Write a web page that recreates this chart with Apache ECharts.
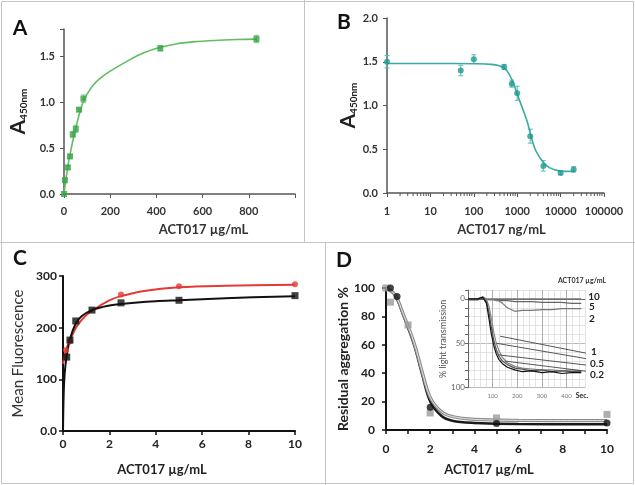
<!DOCTYPE html>
<html><head><meta charset="utf-8">
<script src="https://cdn.jsdelivr.net/npm/echarts@6/dist/echarts.min.js"></script>
<style>html,body{margin:0;padding:0;background:#fff}#c{width:635px;height:485px}</style>
</head><body><div id="c"></div>
<script>
// ---------- Panel A ----------
const aX = [0, 4, 17, 26, 38, 51, 65, 84, 417, 833];
const aY = [0, 0.15, 0.29, 0.41, 0.65, 0.71, 0.92, 1.04, 1.59, 1.69];
const aErr = [0, 0.02, 0.02, 0.02, 0.03, 0.04, 0.02, 0.04, 0.03, 0.04];
const aFitX = [0, 10, 20, 30, 40, 52, 65, 84, 100, 127, 160, 200, 274, 346, 417, 490, 560, 650, 750, 833];
const aFitY = [0, 0.19, 0.35, 0.48, 0.60, 0.73, 0.86, 1.01, 1.09, 1.19, 1.27, 1.34, 1.45, 1.54, 1.60, 1.64, 1.66, 1.675, 1.685, 1.69];
const aXTicks = [0, 200, 400, 600, 800];
// ---------- Panel B ----------
const bX = [1, 50, 100, 500, 750, 1000, 2000, 4000, 10000, 20000];
const bY = [1.50, 1.40, 1.53, 1.44, 1.25, 1.14, 0.65, 0.31, 0.23, 0.27];
const bErr = [0.07, 0.06, 0.05, 0.03, 0.04, 0.08, 0.08, 0.06, 0.02, 0.03];
const bFitX = [1, 10, 100, 250, 500, 750, 1000, 1320, 1740, 2000, 2700, 4000, 5500, 10000, 20000];
const bFitY = [1.48, 1.48, 1.477, 1.47, 1.43, 1.30, 1.13, 0.97, 0.80, 0.68, 0.48, 0.35, 0.29, 0.25, 0.247];
const bXTicks = [1, 10, 100, 1000, 10000, 100000];
// ---------- Panel C ----------
const cBlackX = [0.16, 0.3, 0.55, 1.25, 2.5, 5, 10];
const cBlackY = [143, 176, 213, 234, 248, 253, 262];
const cRedX = [0.13, 0.3, 2.5, 5, 10];
const cRedY = [157, 173, 264, 280, 284];
const cBlackFitX = [0, 0.02, 0.05, 0.1, 0.16, 0.3, 0.55, 0.8, 1.25, 2, 2.5, 4, 5, 7, 10];
const cBlackFitY = [0, 55, 95, 125, 145, 178, 208, 222, 234, 243, 246, 251, 253, 257, 261];
const cRedFitX = [0, 0.13, 0.3, 0.6, 1, 1.5, 2, 2.5, 3.5, 5, 7, 10];
const cRedFitY = [130, 157, 175, 203, 224, 240, 253, 261, 271, 278, 281, 283];
// ---------- Panel D ----------
const dBlackX = [0.2, 0.5, 2, 5, 10];
const dBlackY = [100, 94, 16, 4.5, 5];
const dGrayX = [0, 0.2, 1, 2, 5, 10];
const dGrayY = [100, 90, 74, 12, 8.5, 11];
const dFitX = [0, 0.4, 0.8, 1.27, 1.62, 2, 2.5, 3, 4, 6, 10];
const dBlackFitY = [100, 95, 80, 60, 40, 20, 10, 6.5, 5, 4.2, 4.1];
const dGrayFitY = [100, 95.5, 81, 61.5, 42, 23, 13, 9.5, 7.5, 6.8, 6.6];
// ---------- Panel D inset (light transmission traces) ----------
const insetT = [0, 40, 60, 75, 85, 95, 105, 115, 125, 140, 160, 190, 220, 260, 300, 340, 380, 420, 460];
const tr10 = [0, 0, -2, 0, 0, 0, 0, 0, 0, 0, 0, 0, 0, 0, 0, 0, 0, 0, 0];
const tr5 = [1, 1, -1, 1, 1, 1, 1, 1, 2, 2, 2, 3, 3, 3, 4, 4, 4, 5, 5];
const tr2 = [1, 1, -1, 1, 1, 1, 1, 2, 2, 5, 10, 14, 13, 13, 12, 12, 11, 11, 11];
const tr1 = [0, 0, -2, 1, 8, 22, 38, 50, 58, 66, 72, 76, 78, 79, 80, 80, 81, 80, 81];
const tr05 = [1, 1, -1, 3, 15, 32, 47, 57, 64, 70, 74, 78, 79, 81, 80, 82, 81, 82, 82];
const tr02 = [0, 0, -2, 5, 22, 40, 53, 62, 68, 73, 77, 80, 82, 81, 83, 82, 84, 83, 83];
const leaderStart = [[130, 42], [116, 50], [123, 63], [150, 70]];
const leaderEnd = [[495, 62], [495, 68], [495, 75], [495, 82]];
const insetLabels = ['10', '5', '2', '1', '0.5', '0.2'];

const zip = (xs, ys) => xs.map((x, i) => [x, ys[i]]);
const zip3 = (xs, ys, es) => xs.map((x, i) => [x, ys[i], es[i]]);
const FONT = 'Lato, "Open Sans", sans-serif';

// log minor ticks (2..9 within each decade)
const bMinor = [];
for (let d = 1; d < 100000; d *= 10) for (let k = 2; k <= 9; k++) bMinor.push([d * k]);

function errBar(color) {
  return function (params, api) {
    const x = api.value(0), y = api.value(1), e = api.value(2);
    if (!e) return;
    const t = api.coord([x, y + e]), b = api.coord([x, y - e]);
    const st = { stroke: color, lineWidth: 1 };
    return { type: 'group', children: [
      { type: 'line', shape: { x1: t[0], y1: t[1], x2: b[0], y2: b[1] }, style: st },
      { type: 'line', shape: { x1: t[0] - 2.5, y1: t[1], x2: t[0] + 2.5, y2: t[1] }, style: st },
      { type: 'line', shape: { x1: b[0] - 2.5, y1: b[1], x2: b[0] + 2.5, y2: b[1] }, style: st }
    ] };
  };
}

const axLab = (sz, col) => ({ fontWeight: 'bold', fontSize: sz, color: col, fontFamily: FONT });
const grayAxis = { lineStyle: { color: '#555', width: 1.5 } };
const blackAxis = { lineStyle: { color: '#111', width: 2 } };
const ySubName = '{a|A}{s|450nm}';
const ySubRich = { a: { fontSize: 21, fontWeight: 'bold', color: '#222', fontFamily: FONT },
                   s: { fontSize: 10, fontWeight: 'bold', color: '#222', padding: [11, 0, 0, 0], fontFamily: FONT } };
const SM = 0.35;

const chart = echarts.init(document.getElementById('c'), null, { renderer: 'canvas' });
const option = {
  animation: false,
  textStyle: { fontFamily: FONT },
  grid: [
    { left: 64, top: 29, width: 231, height: 165 },
    { left: 387, top: 18, width: 217, height: 175 },
    { left: 63, top: 276, width: 232, height: 155 },
    { left: 386, top: 288, width: 221, height: 142 },
    { left: 468, top: 290, width: 117, height: 97.7, show: true, backgroundColor: '#fff', borderWidth: 0, z: 5 }
  ],
  xAxis: [
    { gridIndex: 0, type: 'value', min: 0, max: 1000, interval: 200, axisLine: grayAxis,
      axisTick: { length: 4, lineStyle: { color: '#555' } }, splitLine: { show: false },
      axisLabel: Object.assign(axLab(11, '#333'), { margin: 12, formatter: v => aXTicks.includes(v) ? String(v) : '' }),
      name: 'ACT017 µg/mL', nameLocation: 'middle', nameGap: 29,
      nameTextStyle: { fontWeight: 'bold', fontSize: 13, color: '#333', padding: [0, 0, 0, 48] } },
    { gridIndex: 1, type: 'log', logBase: 10, min: 1, max: 100000, axisLine: grayAxis,
      axisTick: { length: 4, lineStyle: { color: '#555' } }, splitLine: { show: false },
      axisLabel: Object.assign(axLab(11, '#333'), { margin: 13, formatter: v => bXTicks.includes(v) ? String(v) : '' }),
      name: 'ACT017 ng/mL', nameLocation: 'middle', nameGap: 30,
      nameTextStyle: { fontWeight: 'bold', fontSize: 13, color: '#333', padding: [0, 0, 0, 12] } },
    { gridIndex: 2, type: 'value', min: 0, max: 10, interval: 2, axisLine: blackAxis,
      axisTick: { length: 4, lineStyle: { color: '#111', width: 1.5 } }, splitLine: { show: false },
      axisLabel: Object.assign(axLab(12, '#222'), { margin: 7 }),
      name: 'ACT017 µg/mL', nameLocation: 'middle', nameGap: 32,
      nameTextStyle: { fontWeight: 'bold', fontSize: 13, color: '#222', padding: [0, 34, 0, 0] } },
    { gridIndex: 3, type: 'value', min: 0, max: 10, interval: 1, axisLine: blackAxis,
      axisTick: { length: 4, lineStyle: { color: '#111', width: 1.5 } }, splitLine: { show: false },
      axisLabel: Object.assign(axLab(12, '#222'), { margin: 13, formatter: v => v % 2 === 0 ? String(v) : '' }),
      name: 'ACT017 µg/mL', nameLocation: 'middle', nameGap: 33,
      nameTextStyle: { fontWeight: 'bold', fontSize: 13, color: '#222', padding: [0, 15, 0, 0] } },
    { gridIndex: 4, type: 'value', min: 0, max: 475, interval: 25, z: 6,
      axisLine: { lineStyle: { color: '#666', width: 1 } }, axisTick: { show: false },
      splitLine: { show: true, lineStyle: { color: ['#999', '#ddd', '#ddd', '#ddd'], width: 0.8 } },
      axisLabel: { fontSize: 6, color: '#777', margin: 5, formatter: v => (v > 0 && v % 100 === 0) ? String(v) : '' } }
  ],
  yAxis: [
    { gridIndex: 0, type: 'value', min: 0, max: 1.8, interval: 0.5, axisLine: Object.assign({ show: true }, grayAxis),
      axisTick: { show: true, length: 4, lineStyle: { color: '#555' } }, splitLine: { show: false },
      axisLabel: Object.assign(axLab(11, '#333'), { margin: 9, formatter: v => Math.abs(v * 2 - Math.round(v * 2)) < 1e-6 ? v.toFixed(1) : '' }),
      name: ySubName, nameLocation: 'middle', nameGap: 35, nameRotate: 90, nameTextStyle: { rich: ySubRich } },
    { gridIndex: 1, type: 'value', min: 0, max: 2, interval: 0.5, axisLine: Object.assign({ show: true }, grayAxis),
      axisTick: { show: true, length: 4, lineStyle: { color: '#555' } }, splitLine: { show: false },
      axisLabel: Object.assign(axLab(11, '#333'), { margin: 9, formatter: v => v.toFixed(1) }),
      name: ySubName, nameLocation: 'middle', nameGap: 28, nameRotate: 90, nameTextStyle: { rich: ySubRich } },
    { gridIndex: 2, type: 'value', min: 0, max: 300, interval: 100, axisLine: Object.assign({ show: true }, blackAxis),
      axisTick: { show: true, length: 4, lineStyle: { color: '#111', width: 1.5 } }, splitLine: { show: false },
      axisLabel: Object.assign(axLab(12, '#222'), { margin: 6, formatter: v => v === 0 ? '0.0' : String(v) }),
      name: 'Mean Fluorescence', nameLocation: 'middle', nameGap: 37, nameRotate: 90,
      nameTextStyle: { fontSize: 15, color: '#333', fontFamily: FONT } },
    { gridIndex: 3, type: 'value', min: 0, max: 100, interval: 20, axisLine: Object.assign({ show: true }, blackAxis),
      axisTick: { show: true, length: 4, lineStyle: { color: '#111', width: 1.5 } }, splitLine: { show: false },
      axisLabel: Object.assign(axLab(12, '#222'), { margin: 11 }),
      name: 'Residual aggregation %', nameLocation: 'middle', nameGap: 33, nameRotate: 90,
      nameTextStyle: { fontSize: 14, fontWeight: 'bold', color: '#222', fontFamily: FONT } },
    { gridIndex: 4, type: 'value', inverse: true, min: -10, max: 100, interval: 10, z: 6,
      axisLine: { show: true, lineStyle: { color: '#666', width: 1 } },
      axisTick: { show: true, length: 3, lineStyle: { color: '#666' } },
      splitLine: { show: true, lineStyle: { color: ['#ddd', '#aaa', '#ddd', '#ddd', '#ddd'], width: 0.8 } },
      axisLabel: { fontSize: 8, color: '#666', margin: 3, formatter: v => (v === 0 || v === 50 || v === 100) ? String(v) : '' },
      name: '% light transmission', nameLocation: 'middle', nameGap: 13, nameRotate: 90,
      nameTextStyle: { fontSize: 9, color: '#555', fontFamily: FONT } }
  ],
  series: [
    // A
    { type: 'line', xAxisIndex: 0, yAxisIndex: 0, data: zip(aFitX, aFitY), smooth: SM, showSymbol: false,
      lineStyle: { color: '#62bd62', width: 1.6 } },
    { type: 'custom', xAxisIndex: 0, yAxisIndex: 0, data: zip3(aX, aY, aErr), renderItem: errBar('#7cc97c'), z: 3 },
    { type: 'scatter', xAxisIndex: 0, yAxisIndex: 0, data: zip(aX, aY), symbol: 'rect', symbolSize: 6,
      itemStyle: { color: '#36a447' }, z: 4 },
    // B
    { type: 'line', xAxisIndex: 1, yAxisIndex: 1, data: zip(bFitX, bFitY), smooth: SM, showSymbol: false,
      lineStyle: { color: '#3aaba3', width: 1.6 } },
    { type: 'custom', xAxisIndex: 1, yAxisIndex: 1, data: zip3(bX, bY, bErr), renderItem: errBar('#5cb8b0'), z: 3 },
    { type: 'scatter', xAxisIndex: 1, yAxisIndex: 1, data: zip(bX, bY), symbol: 'circle', symbolSize: 6,
      itemStyle: { color: '#1f9a90' }, z: 4 },
    { type: 'custom', xAxisIndex: 1, yAxisIndex: 1, data: bMinor, clip: false, silent: true,
      renderItem: (p, api) => { const c = api.coord([api.value(0), 0]);
        return { type: 'line', shape: { x1: c[0], y1: c[1], x2: c[0], y2: c[1] + 3 }, style: { stroke: '#555', lineWidth: 1 } }; } },
    // C
    { type: 'line', xAxisIndex: 2, yAxisIndex: 2, data: zip(cRedFitX, cRedFitY), smooth: SM, showSymbol: false,
      lineStyle: { color: '#e53935', width: 2 } },
    { type: 'line', xAxisIndex: 2, yAxisIndex: 2, data: zip(cBlackFitX, cBlackFitY), smooth: SM, showSymbol: false,
      lineStyle: { color: '#111', width: 2 } },
    { type: 'scatter', xAxisIndex: 2, yAxisIndex: 2, data: zip(cRedX, cRedY), symbol: 'circle', symbolSize: 6,
      itemStyle: { color: '#e53935' }, z: 4 },
    { type: 'scatter', xAxisIndex: 2, yAxisIndex: 2, data: zip(cBlackX, cBlackY), symbol: 'rect', symbolSize: 7,
      itemStyle: { color: '#111' }, z: 4 },
    // D
    { type: 'line', xAxisIndex: 3, yAxisIndex: 3, data: zip(dFitX, dBlackFitY), smooth: SM, showSymbol: false,
      lineStyle: { color: '#1a1a1a', width: 2.5 } },
    { type: 'line', xAxisIndex: 3, yAxisIndex: 3, data: zip(dFitX, dGrayFitY), smooth: SM, showSymbol: false,
      lineStyle: { color: '#8a8a8a', width: 3.2 } },
    { type: 'line', xAxisIndex: 3, yAxisIndex: 3, data: zip(dFitX, dGrayFitY), smooth: SM, showSymbol: false,
      lineStyle: { color: '#e6e6e6', width: 1 } },
    { type: 'scatter', xAxisIndex: 3, yAxisIndex: 3, data: zip(dGrayX, dGrayY), symbol: 'rect', symbolSize: 7,
      itemStyle: { color: '#9a9a9a' }, z: 4 },
    { type: 'scatter', xAxisIndex: 3, yAxisIndex: 3, data: zip(dBlackX, dBlackY), symbol: 'circle', symbolSize: 7,
      itemStyle: { color: '#111' }, z: 4 },
    // D inset traces
    ...[[tr10, '#777'], [tr5, '#666'], [tr2, '#777'], [tr1, '#888'], [tr05, '#555'], [tr02, '#111']].map(([tr, col]) => ({
      type: 'line', xAxisIndex: 4, yAxisIndex: 4, data: zip(insetT, tr), showSymbol: false, z: 7,
      lineStyle: { color: col, width: 1.2 } })),
    ...leaderStart.map((s, i) => ({
      type: 'line', xAxisIndex: 4, yAxisIndex: 4, data: [s, leaderEnd[i]], showSymbol: false, clip: false, z: 8,
      lineStyle: { color: '#444', width: 0.9 } }))
  ],
  graphic: [
    { type: 'rect', shape: { x: 1.5, y: 1.5, width: 632, height: 482 }, style: { fill: 'none', stroke: '#c4c4c4', lineWidth: 1 }, z: 0 },
    { type: 'line', shape: { x1: 0, y1: 242.5, x2: 635, y2: 242.5 }, style: { stroke: '#c4c4c4', lineWidth: 1 } },
    { type: 'line', shape: { x1: 304.5, y1: 0, x2: 304.5, y2: 242.5 }, style: { stroke: '#c4c4c4', lineWidth: 1 } },
    { type: 'line', shape: { x1: 325.5, y1: 242.5, x2: 325.5, y2: 485 }, style: { stroke: '#c4c4c4', lineWidth: 1 } },
    { type: 'text', x: 20, y: 28, style: { text: 'A', font: 'bold 21px ' + FONT, fill: '#111', align: 'center', verticalAlign: 'middle' } },
    { type: 'text', x: 344, y: 22, style: { text: 'B', font: 'bold 21px ' + FONT, fill: '#111', align: 'center', verticalAlign: 'middle' } },
    { type: 'text', x: 20, y: 258, style: { text: 'C', font: 'bold 21px ' + FONT, fill: '#111', align: 'center', verticalAlign: 'middle' } },
    { type: 'text', x: 344, y: 260, style: { text: 'D', font: 'bold 21px ' + FONT, fill: '#111', align: 'center', verticalAlign: 'middle' } },
    { type: 'text', x: 582, y: 281, z: 20, style: { text: 'ACT017 µg/mL', font: 'bold 7px ' + FONT, fill: '#333', align: 'center', verticalAlign: 'middle' } },
    { type: 'text', x: 594, y: 297, z: 20, style: { text: insetLabels[0], font: 'bold 10px ' + FONT, fill: '#222', align: 'center', verticalAlign: 'middle' } },
    { type: 'text', x: 592, y: 307, z: 20, style: { text: insetLabels[1], font: 'bold 10px ' + FONT, fill: '#222', align: 'center', verticalAlign: 'middle' } },
    { type: 'text', x: 592, y: 319, z: 20, style: { text: insetLabels[2], font: 'bold 10px ' + FONT, fill: '#222', align: 'center', verticalAlign: 'middle' } },
    { type: 'text', x: 594, y: 352, z: 20, style: { text: insetLabels[3], font: 'bold 10px ' + FONT, fill: '#222', align: 'center', verticalAlign: 'middle' } },
    { type: 'text', x: 597, y: 363.5, z: 20, style: { text: insetLabels[4], font: 'bold 10px ' + FONT, fill: '#222', align: 'center', verticalAlign: 'middle' } },
    { type: 'text', x: 597, y: 375, z: 20, style: { text: insetLabels[5], font: 'bold 10px ' + FONT, fill: '#222', align: 'center', verticalAlign: 'middle' } },
    { type: 'text', x: 582, y: 395.5, z: 20, style: { text: 'Sec.', font: 'bold 7px ' + FONT, fill: '#222', align: 'center', verticalAlign: 'middle' } }
  ]
};
chart.setOption(option);
</script></body></html>
